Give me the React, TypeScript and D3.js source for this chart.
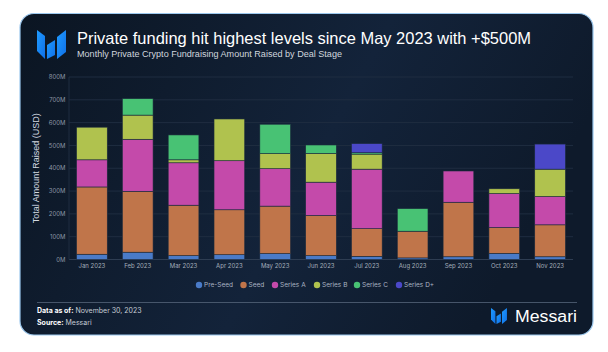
import React from "react";
import * as d3 from "d3";

const months = ["Jan 2023","Feb 2023","Mar 2023","Apr 2023","May 2023","Jun 2023","Jul 2023","Aug 2023","Sep 2023","Oct 2023","Nov 2023"];
const seriesNames = ["Pre-Seed","Seed","Series A","Series B","Series C","Series D+"];
const preSeed = [23, 32, 17, 21, 26, 17, 14, 7, 12, 27, 12];
const seed =    [295, 267, 221, 197, 208, 176, 121, 117, 239, 113, 140];
const seriesA = [119, 228, 186, 215, 164, 146, 261, 0, 137, 149, 124];
const seriesB = [143, 106, 13, 183, 66, 126, 66, 0, 0, 21, 120];
const seriesC = [0, 72, 109, 0, 129, 37, 6, 99, 0, 0, 0];
const seriesD = [0, 0, 0, 0, 0, 0, 40, 0, 0, 0, 110];
const yTicks = [0, 100, 200, 300, 400, 500, 600, 700, 800];
const colors = ["#4a7bc8", "#c0754a", "#c44aaa", "#b0c24e", "#48c274", "#4b48c8"];

const W = 608, H = 352;
const plot = { left: 69, right: 573, top: 77, bottom: 259.5 };

export default function App() {
  const all = [preSeed, seed, seriesA, seriesB, seriesC, seriesD];
  const table = months.map((m, i) => {
    const o: any = { month: m };
    seriesNames.forEach((s, k) => (o[s] = all[k][i]));
    return o;
  });
  const stacked = d3.stack().keys(seriesNames)(table);
  const x = d3.scaleBand().domain(months).range([plot.left, plot.right]).paddingInner(0.33).paddingOuter(0.165);
  const y = d3.scaleLinear().domain([0, 800]).range([plot.bottom, plot.top]);

  const legendX = [199, 243.5, 275, 317, 357, 399];
  const font = "Inter, 'Liberation Sans', Arial, sans-serif";
  const helv = "'Liberation Sans', Arial, sans-serif";

  return (
    <svg width={W} height={H} style={{ position: "absolute", left: 0, top: 0, background: "#fff" }}>
      <defs>
        <linearGradient id="bg" x1="0" y1="0" x2="1" y2="0.3">
          <stop offset="0" stopColor="#0b1522" />
          <stop offset="0.6" stopColor="#13233a" />
          <stop offset="1" stopColor="#0e1a2b" />
        </linearGradient>
        <linearGradient id="logo" x1="0" y1="0" x2="1" y2="1">
          <stop offset="0" stopColor="#1f9bff" />
          <stop offset="1" stopColor="#0f6fe8" />
        </linearGradient>
      </defs>
      <rect x={20} y={13.5} width={573} height={321.5} rx={14} fill="url(#bg)" stroke="#9cc8ee" strokeWidth={1.2} />

      {/* logo */}
      <g transform="translate(37,30)" fill="url(#logo)">
        <polygon points="0,0 8,6 8,29 0,21" />
        <polygon points="10,15 18,10 18,25 10,29" />
        <polygon points="20,7 29,0 29,22 20,29" />
      </g>
      <text x={77} y={43.5} fill="#ffffff" fontFamily={helv} fontSize={16.5} textLength={454} lengthAdjust="spacingAndGlyphs">
        Private funding hit highest levels since May 2023 with +$500M
      </text>
      <text x={77} y={56.5} fill="#d0d6de" fontFamily={helv} fontSize={8.3} textLength={265} lengthAdjust="spacingAndGlyphs">
        Monthly Private Crypto Fundraising Amount Raised by Deal Stage
      </text>

      {/* grid */}
      {yTicks.map((t) => (
        <g key={t}>
          <line x1={plot.left} x2={plot.right} y1={y(t)} y2={y(t)} stroke={t === 0 ? "#2e3d52" : "#1f2d40"} strokeWidth={1} />
          <text x={65.5} y={y(t)} dy="0.35em" textAnchor="end" fill="#8d97a6" fontFamily={font} fontSize={6}>
            {t}M
          </text>
        </g>
      ))}
      <line x1={plot.left} x2={plot.left} y1={plot.top} y2={plot.bottom} stroke="#1f2d40" />

      <text transform={`translate(39,${(plot.top + plot.bottom) / 2}) rotate(-90)`} textAnchor="middle" fill="#d3d9e1" fontFamily={helv} fontSize={9}>
        Total Amount Raised (USD)
      </text>

      {/* bars */}
      {stacked.map((layer, k) => (
        <g key={layer.key} fill={colors[k]}>
          {layer.map((d, i) =>
            d[1] - d[0] > 0 ? (
              <rect key={i} x={x(months[i])} width={x.bandwidth()} y={y(d[1])} height={y(d[0]) - y(d[1])} stroke="#1b2a3c" strokeWidth={0.6} />
            ) : null
          )}
        </g>
      ))}

      {months.map((m) => (
        <text key={m} x={(x(m) as number) + x.bandwidth() / 2} y={268} textAnchor="middle" fill="#a3adba" fontFamily={font} fontSize={6}>
          {m}
        </text>
      ))}

      {/* legend */}
      {seriesNames.map((s, k) => (
        <g key={s}>
          <circle cx={legendX[k]} cy={285} r={3.2} fill={colors[k]} />
          <text x={legendX[k] + 5} y={285} dy="0.35em" fill="#aab4c2" fontFamily={font} fontSize={6.5}>
            {s}
          </text>
        </g>
      ))}

      {/* footer */}
      <line x1={37} x2={577} y1={302.5} y2={302.5} stroke="#55657a" strokeWidth={0.8} />
      <text x={37} y={313} fill="#c6ccd5" fontFamily={font} fontSize={7}>
        <tspan fontWeight={700} fill="#ffffff">Data as of:</tspan> November 30, 2023
      </text>
      <text x={37} y={324.5} fill="#c6ccd5" fontFamily={font} fontSize={7}>
        <tspan fontWeight={700} fill="#ffffff">Source:</tspan> Messari
      </text>
      <g transform="translate(491,308) scale(0.55)" fill="url(#logo)">
        <polygon points="0,0 8,6 8,29 0,21" />
        <polygon points="10,15 18,10 18,25 10,29" />
        <polygon points="20,7 29,0 29,22 20,29" />
      </g>
      <text x={515} y={322} fill="#ffffff" fontFamily={helv} fontSize={16} textLength={62} lengthAdjust="spacingAndGlyphs">
        Messari
      </text>
    </svg>
  );
}
